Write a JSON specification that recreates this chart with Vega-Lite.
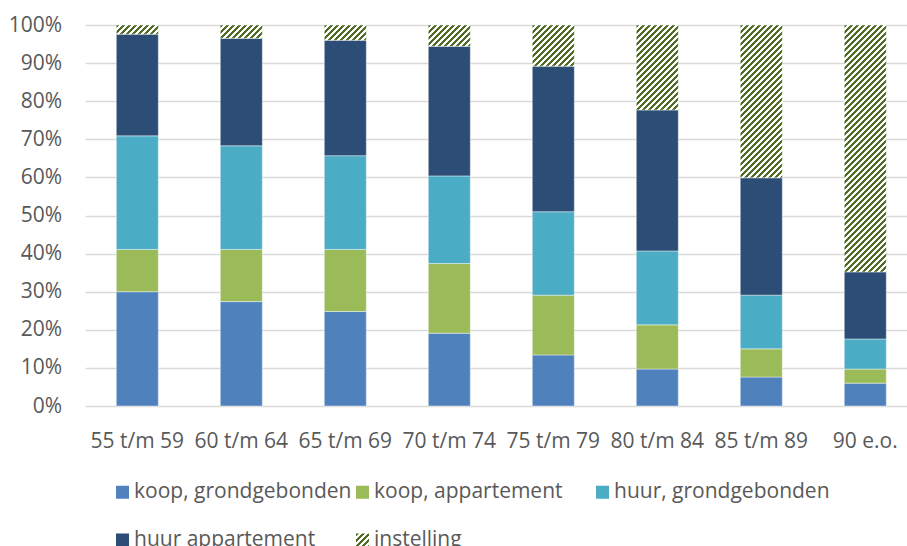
{
  "$schema": "https://vega.github.io/schema/vega-lite/v6.json",
  "width": 821.7,
  "height": 381,
  "autosize": {"type": "none"},
  "padding": {"left": 85.3, "top": 25, "right": 0, "bottom": 140},
  "background": "#ffffff",
  "params": [
    {"name": "stripes", "value": [
      {"offset": 0.000, "color": "#4F6B25"}, {"offset": 0.009, "color": "#4F6B25"}, {"offset": 0.011, "color": "#ffffff"}, {"offset": 0.019, "color": "#ffffff"},
      {"offset": 0.020, "color": "#4F6B25"}, {"offset": 0.029, "color": "#4F6B25"}, {"offset": 0.031, "color": "#ffffff"}, {"offset": 0.039, "color": "#ffffff"},
      {"offset": 0.040, "color": "#4F6B25"}, {"offset": 0.049, "color": "#4F6B25"}, {"offset": 0.051, "color": "#ffffff"}, {"offset": 0.059, "color": "#ffffff"},
      {"offset": 0.060, "color": "#4F6B25"}, {"offset": 0.069, "color": "#4F6B25"}, {"offset": 0.071, "color": "#ffffff"}, {"offset": 0.079, "color": "#ffffff"},
      {"offset": 0.080, "color": "#4F6B25"}, {"offset": 0.089, "color": "#4F6B25"}, {"offset": 0.091, "color": "#ffffff"}, {"offset": 0.099, "color": "#ffffff"},
      {"offset": 0.100, "color": "#4F6B25"}, {"offset": 0.109, "color": "#4F6B25"}, {"offset": 0.111, "color": "#ffffff"}, {"offset": 0.119, "color": "#ffffff"},
      {"offset": 0.120, "color": "#4F6B25"}, {"offset": 0.129, "color": "#4F6B25"}, {"offset": 0.131, "color": "#ffffff"}, {"offset": 0.139, "color": "#ffffff"},
      {"offset": 0.140, "color": "#4F6B25"}, {"offset": 0.149, "color": "#4F6B25"}, {"offset": 0.151, "color": "#ffffff"}, {"offset": 0.159, "color": "#ffffff"},
      {"offset": 0.160, "color": "#4F6B25"}, {"offset": 0.169, "color": "#4F6B25"}, {"offset": 0.171, "color": "#ffffff"}, {"offset": 0.179, "color": "#ffffff"},
      {"offset": 0.180, "color": "#4F6B25"}, {"offset": 0.189, "color": "#4F6B25"}, {"offset": 0.191, "color": "#ffffff"}, {"offset": 0.199, "color": "#ffffff"},
      {"offset": 0.200, "color": "#4F6B25"}, {"offset": 0.209, "color": "#4F6B25"}, {"offset": 0.211, "color": "#ffffff"}, {"offset": 0.219, "color": "#ffffff"},
      {"offset": 0.220, "color": "#4F6B25"}, {"offset": 0.229, "color": "#4F6B25"}, {"offset": 0.231, "color": "#ffffff"}, {"offset": 0.239, "color": "#ffffff"},
      {"offset": 0.240, "color": "#4F6B25"}, {"offset": 0.249, "color": "#4F6B25"}, {"offset": 0.251, "color": "#ffffff"}, {"offset": 0.259, "color": "#ffffff"},
      {"offset": 0.260, "color": "#4F6B25"}, {"offset": 0.269, "color": "#4F6B25"}, {"offset": 0.271, "color": "#ffffff"}, {"offset": 0.279, "color": "#ffffff"},
      {"offset": 0.280, "color": "#4F6B25"}, {"offset": 0.289, "color": "#4F6B25"}, {"offset": 0.291, "color": "#ffffff"}, {"offset": 0.299, "color": "#ffffff"},
      {"offset": 0.300, "color": "#4F6B25"}, {"offset": 0.309, "color": "#4F6B25"}, {"offset": 0.311, "color": "#ffffff"}, {"offset": 0.319, "color": "#ffffff"},
      {"offset": 0.320, "color": "#4F6B25"}, {"offset": 0.329, "color": "#4F6B25"}, {"offset": 0.331, "color": "#ffffff"}, {"offset": 0.339, "color": "#ffffff"},
      {"offset": 0.340, "color": "#4F6B25"}, {"offset": 0.349, "color": "#4F6B25"}, {"offset": 0.351, "color": "#ffffff"}, {"offset": 0.359, "color": "#ffffff"},
      {"offset": 0.360, "color": "#4F6B25"}, {"offset": 0.369, "color": "#4F6B25"}, {"offset": 0.371, "color": "#ffffff"}, {"offset": 0.379, "color": "#ffffff"},
      {"offset": 0.380, "color": "#4F6B25"}, {"offset": 0.389, "color": "#4F6B25"}, {"offset": 0.391, "color": "#ffffff"}, {"offset": 0.399, "color": "#ffffff"},
      {"offset": 0.400, "color": "#4F6B25"}, {"offset": 0.409, "color": "#4F6B25"}, {"offset": 0.411, "color": "#ffffff"}, {"offset": 0.419, "color": "#ffffff"},
      {"offset": 0.420, "color": "#4F6B25"}, {"offset": 0.429, "color": "#4F6B25"}, {"offset": 0.431, "color": "#ffffff"}, {"offset": 0.439, "color": "#ffffff"},
      {"offset": 0.440, "color": "#4F6B25"}, {"offset": 0.449, "color": "#4F6B25"}, {"offset": 0.451, "color": "#ffffff"}, {"offset": 0.459, "color": "#ffffff"},
      {"offset": 0.460, "color": "#4F6B25"}, {"offset": 0.469, "color": "#4F6B25"}, {"offset": 0.471, "color": "#ffffff"}, {"offset": 0.479, "color": "#ffffff"},
      {"offset": 0.480, "color": "#4F6B25"}, {"offset": 0.489, "color": "#4F6B25"}, {"offset": 0.491, "color": "#ffffff"}, {"offset": 0.499, "color": "#ffffff"},
      {"offset": 0.500, "color": "#4F6B25"}, {"offset": 0.509, "color": "#4F6B25"}, {"offset": 0.511, "color": "#ffffff"}, {"offset": 0.519, "color": "#ffffff"},
      {"offset": 0.520, "color": "#4F6B25"}, {"offset": 0.529, "color": "#4F6B25"}, {"offset": 0.531, "color": "#ffffff"}, {"offset": 0.539, "color": "#ffffff"},
      {"offset": 0.540, "color": "#4F6B25"}, {"offset": 0.549, "color": "#4F6B25"}, {"offset": 0.551, "color": "#ffffff"}, {"offset": 0.559, "color": "#ffffff"},
      {"offset": 0.560, "color": "#4F6B25"}, {"offset": 0.569, "color": "#4F6B25"}, {"offset": 0.571, "color": "#ffffff"}, {"offset": 0.579, "color": "#ffffff"},
      {"offset": 0.580, "color": "#4F6B25"}, {"offset": 0.589, "color": "#4F6B25"}, {"offset": 0.591, "color": "#ffffff"}, {"offset": 0.599, "color": "#ffffff"},
      {"offset": 0.600, "color": "#4F6B25"}, {"offset": 0.609, "color": "#4F6B25"}, {"offset": 0.611, "color": "#ffffff"}, {"offset": 0.619, "color": "#ffffff"},
      {"offset": 0.620, "color": "#4F6B25"}, {"offset": 0.629, "color": "#4F6B25"}, {"offset": 0.631, "color": "#ffffff"}, {"offset": 0.639, "color": "#ffffff"},
      {"offset": 0.640, "color": "#4F6B25"}, {"offset": 0.649, "color": "#4F6B25"}, {"offset": 0.651, "color": "#ffffff"}, {"offset": 0.659, "color": "#ffffff"},
      {"offset": 0.660, "color": "#4F6B25"}, {"offset": 0.669, "color": "#4F6B25"}, {"offset": 0.671, "color": "#ffffff"}, {"offset": 0.679, "color": "#ffffff"},
      {"offset": 0.680, "color": "#4F6B25"}, {"offset": 0.689, "color": "#4F6B25"}, {"offset": 0.691, "color": "#ffffff"}, {"offset": 0.699, "color": "#ffffff"},
      {"offset": 0.700, "color": "#4F6B25"}, {"offset": 0.709, "color": "#4F6B25"}, {"offset": 0.711, "color": "#ffffff"}, {"offset": 0.719, "color": "#ffffff"},
      {"offset": 0.720, "color": "#4F6B25"}, {"offset": 0.729, "color": "#4F6B25"}, {"offset": 0.731, "color": "#ffffff"}, {"offset": 0.739, "color": "#ffffff"},
      {"offset": 0.740, "color": "#4F6B25"}, {"offset": 0.749, "color": "#4F6B25"}, {"offset": 0.751, "color": "#ffffff"}, {"offset": 0.759, "color": "#ffffff"},
      {"offset": 0.760, "color": "#4F6B25"}, {"offset": 0.769, "color": "#4F6B25"}, {"offset": 0.771, "color": "#ffffff"}, {"offset": 0.779, "color": "#ffffff"},
      {"offset": 0.780, "color": "#4F6B25"}, {"offset": 0.789, "color": "#4F6B25"}, {"offset": 0.791, "color": "#ffffff"}, {"offset": 0.799, "color": "#ffffff"},
      {"offset": 0.800, "color": "#4F6B25"}, {"offset": 0.809, "color": "#4F6B25"}, {"offset": 0.811, "color": "#ffffff"}, {"offset": 0.819, "color": "#ffffff"},
      {"offset": 0.820, "color": "#4F6B25"}, {"offset": 0.829, "color": "#4F6B25"}, {"offset": 0.831, "color": "#ffffff"}, {"offset": 0.839, "color": "#ffffff"},
      {"offset": 0.840, "color": "#4F6B25"}, {"offset": 0.849, "color": "#4F6B25"}, {"offset": 0.851, "color": "#ffffff"}, {"offset": 0.859, "color": "#ffffff"},
      {"offset": 0.860, "color": "#4F6B25"}, {"offset": 0.869, "color": "#4F6B25"}, {"offset": 0.871, "color": "#ffffff"}, {"offset": 0.879, "color": "#ffffff"},
      {"offset": 0.880, "color": "#4F6B25"}, {"offset": 0.889, "color": "#4F6B25"}, {"offset": 0.891, "color": "#ffffff"}, {"offset": 0.899, "color": "#ffffff"},
      {"offset": 0.900, "color": "#4F6B25"}, {"offset": 0.909, "color": "#4F6B25"}, {"offset": 0.911, "color": "#ffffff"}, {"offset": 0.919, "color": "#ffffff"},
      {"offset": 0.920, "color": "#4F6B25"}, {"offset": 0.929, "color": "#4F6B25"}, {"offset": 0.931, "color": "#ffffff"}, {"offset": 0.939, "color": "#ffffff"},
      {"offset": 0.940, "color": "#4F6B25"}, {"offset": 0.949, "color": "#4F6B25"}, {"offset": 0.951, "color": "#ffffff"}, {"offset": 0.959, "color": "#ffffff"},
      {"offset": 0.960, "color": "#4F6B25"}, {"offset": 0.969, "color": "#4F6B25"}, {"offset": 0.971, "color": "#ffffff"}, {"offset": 0.979, "color": "#ffffff"},
      {"offset": 0.980, "color": "#4F6B25"}, {"offset": 0.989, "color": "#4F6B25"}, {"offset": 0.991, "color": "#ffffff"}, {"offset": 1.000, "color": "#ffffff"}
    ]},
    {"name": "legendGrad", "expr": "{gradient: 'linear', x1: 0, y1: 0, x2: 11.54, y2: 11.54, stops: stripes}"}
  ],
  "data": {"values": [
    {"age": "55 t/m 59", "type": "koop, grondgebonden", "rank": 1, "pct": 30.0},
    {"age": "55 t/m 59", "type": "koop, appartement", "rank": 2, "pct": 11.1},
    {"age": "55 t/m 59", "type": "huur, grondgebonden", "rank": 3, "pct": 29.8},
    {"age": "55 t/m 59", "type": "huur appartement", "rank": 4, "pct": 26.7},
    {"age": "55 t/m 59", "type": "instelling", "rank": 5, "pct": 2.4},
    {"age": "60 t/m 64", "type": "koop, grondgebonden", "rank": 1, "pct": 27.4},
    {"age": "60 t/m 64", "type": "koop, appartement", "rank": 2, "pct": 13.7},
    {"age": "60 t/m 64", "type": "huur, grondgebonden", "rank": 3, "pct": 27.2},
    {"age": "60 t/m 64", "type": "huur appartement", "rank": 4, "pct": 28.2},
    {"age": "60 t/m 64", "type": "instelling", "rank": 5, "pct": 3.5},
    {"age": "65 t/m 69", "type": "koop, grondgebonden", "rank": 1, "pct": 24.8},
    {"age": "65 t/m 69", "type": "koop, appartement", "rank": 2, "pct": 16.3},
    {"age": "65 t/m 69", "type": "huur, grondgebonden", "rank": 3, "pct": 24.6},
    {"age": "65 t/m 69", "type": "huur appartement", "rank": 4, "pct": 30.3},
    {"age": "65 t/m 69", "type": "instelling", "rank": 5, "pct": 4.0},
    {"age": "70 t/m 74", "type": "koop, grondgebonden", "rank": 1, "pct": 19.1},
    {"age": "70 t/m 74", "type": "koop, appartement", "rank": 2, "pct": 18.3},
    {"age": "70 t/m 74", "type": "huur, grondgebonden", "rank": 3, "pct": 23.0},
    {"age": "70 t/m 74", "type": "huur appartement", "rank": 4, "pct": 34.0},
    {"age": "70 t/m 74", "type": "instelling", "rank": 5, "pct": 5.6},
    {"age": "75 t/m 79", "type": "koop, grondgebonden", "rank": 1, "pct": 13.4},
    {"age": "75 t/m 79", "type": "koop, appartement", "rank": 2, "pct": 15.7},
    {"age": "75 t/m 79", "type": "huur, grondgebonden", "rank": 3, "pct": 21.9},
    {"age": "75 t/m 79", "type": "huur appartement", "rank": 4, "pct": 38.2},
    {"age": "75 t/m 79", "type": "instelling", "rank": 5, "pct": 10.8},
    {"age": "80 t/m 84", "type": "koop, grondgebonden", "rank": 1, "pct": 9.7},
    {"age": "80 t/m 84", "type": "koop, appartement", "rank": 2, "pct": 11.6},
    {"age": "80 t/m 84", "type": "huur, grondgebonden", "rank": 3, "pct": 19.4},
    {"age": "80 t/m 84", "type": "huur appartement", "rank": 4, "pct": 37.0},
    {"age": "80 t/m 84", "type": "instelling", "rank": 5, "pct": 22.3},
    {"age": "85 t/m 89", "type": "koop, grondgebonden", "rank": 1, "pct": 7.6},
    {"age": "85 t/m 89", "type": "koop, appartement", "rank": 2, "pct": 7.4},
    {"age": "85 t/m 89", "type": "huur, grondgebonden", "rank": 3, "pct": 14.1},
    {"age": "85 t/m 89", "type": "huur appartement", "rank": 4, "pct": 30.8},
    {"age": "85 t/m 89", "type": "instelling", "rank": 5, "pct": 40.1},
    {"age": "90 e.o.", "type": "koop, grondgebonden", "rank": 1, "pct": 6.0},
    {"age": "90 e.o.", "type": "koop, appartement", "rank": 2, "pct": 3.7},
    {"age": "90 e.o.", "type": "huur, grondgebonden", "rank": 3, "pct": 7.9},
    {"age": "90 e.o.", "type": "huur appartement", "rank": 4, "pct": 17.6},
    {"age": "90 e.o.", "type": "instelling", "rank": 5, "pct": 64.8}
  ]},
  "mark": {"type": "bar", "stroke": "#ffffff", "strokeWidth": 0.6, "strokeOpacity": 0.7},
  "encoding": {
    "x": {
      "field": "age", "type": "nominal", "sort": null,
      "scale": {"paddingInner": 0.596, "paddingOuter": 0.2486, "align": 0.5996},
      "axis": {"title": null, "domain": false, "ticks": false, "grid": false, "labelAngle": 0, "labelPadding": 24, "labelFont": "Open Sans", "labelFontSize": 21, "labelColor": "#595959"}
    },
    "y": {
      "field": "pct", "type": "quantitative", "stack": "zero",
      "scale": {"domain": [0, 100], "nice": false},
      "axis": {"title": null, "domain": false, "ticks": false, "values": [0, 10, 20, 30, 40, 50, 60, 70, 80, 90, 100], "labelExpr": "datum.value + '%'", "labelPadding": 23.6, "labelFont": "Open Sans", "labelFontSize": 21, "labelColor": "#595959", "gridColor": "#d9d9d9", "gridWidth": 1.3}
    },
    "order": {"field": "rank", "type": "quantitative", "sort": "ascending"},
    "color": {
      "field": "type", "type": "nominal",
      "sort": ["koop, grondgebonden", "koop, appartement", "huur, grondgebonden", "huur appartement", "instelling"],
      "scale": {
        "domain": ["koop, grondgebonden", "koop, appartement", "huur, grondgebonden", "huur appartement", "instelling"],
        "range": ["#4F81BD", "#9BBB59", "#4BACC6", "#2C4D75", {"expr": "legendGrad"}]
      },
      "condition": {
        "test": "datum.type === 'instelling'",
        "value": {"expr": "{gradient: 'linear', x1: 0, y1: 0, x2: 12600 / (1764 + pow(3.81 * datum.pct, 2)), y2: 1143 * datum.pct / (1764 + pow(3.81 * datum.pct, 2)), stops: stripes}"}
      },
      "legend": {
        "title": null,
        "orient": "none",
        "legendX": 26.7,
        "legendY": 456.5,
        "direction": "horizontal",
        "columns": 3,
        "gridAlign": "all",
        "columnPadding": 0,
        "rowPadding": 26,
        "padding": 0,
        "symbolType": "square",
        "symbolSize": 169,
        "symbolStrokeWidth": 0,
        "labelOffset": 1,
        "labelLimit": 400,
        "labelFont": "Open Sans",
        "labelFontSize": 21,
        "labelColor": "#595959"
      }
    }
  },
  "config": {
    "view": {"stroke": null},
    "axis": {"labelFont": "Open Sans"}
  }
}
